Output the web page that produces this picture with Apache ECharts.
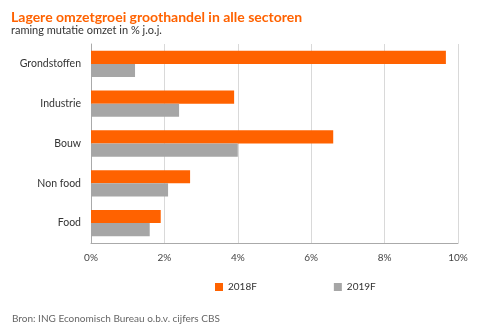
<!DOCTYPE html>
<html><head><meta charset="utf-8">
<script src="https://cdn.jsdelivr.net/npm/echarts@6/dist/echarts.min.js"></script>
<style>html,body{margin:0;padding:0;background:#fff}#c{width:481px;height:329px}</style>
</head><body><div id="c"></div>
<script>
const categories = ['Grondstoffen', 'Industrie', 'Bouw', 'Non food', 'Food'];
const s2018 = [9.67, 3.9, 6.6, 2.7, 1.9];
const s2019 = [1.2, 2.4, 4.0, 2.1, 1.6];
const seriesNames = ['2018F', '2019F'];
const font = 'Lato, "Noto Sans", sans-serif';
const chart = echarts.init(document.getElementById('c'));
chart.setOption({
  animation: false,
  textStyle: {fontFamily: font},
  title: [
    {text: 'Lagere omzetgroei groothandel in alle sectoren', left: 6, top: 5,
     textStyle: {color: '#FF6200', fontSize: 14, fontWeight: 'bold', fontFamily: font}},
    {text: 'raming mutatie omzet in % j.o.j.', left: 6, top: 20,
     textStyle: {color: '#333', fontSize: 11, fontWeight: 'normal', fontFamily: font}},
    {text: 'Bron: ING Economisch Bureau o.b.v. cijfers CBS', left: 7, top: 309,
     textStyle: {color: '#666', fontSize: 10, fontWeight: 'normal', fontFamily: font}}
  ],
  legend: {
    data: seriesNames, left: 210, top: 277, itemWidth: 8, itemHeight: 8, itemGap: 77,
    icon: 'rect', textStyle: {fontSize: 10, color: '#333', fontFamily: font}
  },
  grid: {left: 91, right: 23, top: 44, bottom: 86},
  xAxis: {
    type: 'value', min: 0, max: 10, interval: 2,
    axisLabel: {formatter: '{value}%', color: '#444', fontSize: 10, margin: 10},
    axisLine: {show: true, lineStyle: {color: '#AAA'}},
    axisTick: {show: false},
    splitLine: {show: true, lineStyle: {color: '#D9D9D9'}}
  },
  yAxis: {
    type: 'category', data: categories, inverse: true,
    axisLabel: {color: '#333', fontSize: 10.5, margin: 10},
    axisLine: {show: true, lineStyle: {color: '#AAA'}},
    axisTick: {show: false}
  },
  series: [
    {name: seriesNames[0], type: 'bar', data: s2018, barGap: '0%', barCategoryGap: '34%',
     itemStyle: {color: '#FF6200'}},
    {name: seriesNames[1], type: 'bar', data: s2019, itemStyle: {color: '#A6A6A6'}}
  ]
});
</script></body></html>
